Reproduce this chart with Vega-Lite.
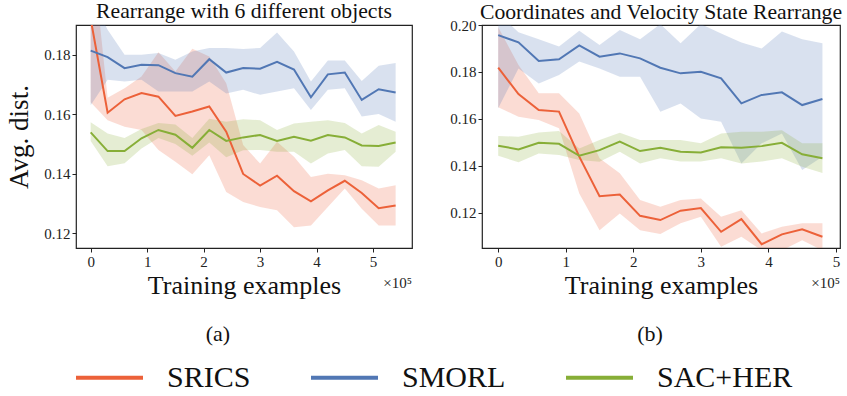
{
  "$schema": "https://vega.github.io/schema/vega-lite/v6.json",
  "padding": {"left": 5, "top": 0, "right": 3, "bottom": 0},
  "config": {
    "font": "Liberation Serif",
    "view": {"stroke": "#222", "strokeWidth": 1.2},
    "axis": {"grid": false, "domain": false, "tickColor": "#222", "tickSize": 4, "labelFontSize": 15, "labelColor": "#222", "labelFont": "Liberation Serif", "titleFont": "Liberation Serif", "titleFontWeight": "normal", "titleColor": "#111", "labelPadding": 2},
    "legend": {"labelFont": "Liberation Serif", "labelFontSize": 30, "labelColor": "#111"},
    "title": {"font": "Liberation Serif", "fontWeight": "normal", "fontSize": 21.7, "color": "#111"}
  },
  "datasets": {
    "d": [
      {"p":"a","m":"SRICS","x":0,"y":0.192,"lo":0.164,"hi":0.22},
      {"p":"a","m":"SRICS","x":0.3,"y":0.1605,"lo":0.158,"hi":0.1655},
      {"p":"a","m":"SRICS","x":0.6,"y":0.165,"lo":0.1558,"hi":0.1687},
      {"p":"a","m":"SRICS","x":0.9,"y":0.1671,"lo":0.1547,"hi":0.1727},
      {"p":"a","m":"SRICS","x":1.2,"y":0.1659,"lo":0.148,"hi":0.1808},
      {"p":"a","m":"SRICS","x":1.5,"y":0.1594,"lo":0.144,"hi":0.1744},
      {"p":"a","m":"SRICS","x":1.8,"y":0.1609,"lo":0.1398,"hi":0.182},
      {"p":"a","m":"SRICS","x":2.1,"y":0.1626,"lo":0.1462,"hi":0.1794},
      {"p":"a","m":"SRICS","x":2.4,"y":0.1541,"lo":0.1338,"hi":0.1704},
      {"p":"a","m":"SRICS","x":2.7,"y":0.1399,"lo":0.1305,"hi":0.1496},
      {"p":"a","m":"SRICS","x":3.0,"y":0.136,"lo":0.1288,"hi":0.1434},
      {"p":"a","m":"SRICS","x":3.3,"y":0.1393,"lo":0.1277,"hi":0.1507},
      {"p":"a","m":"SRICS","x":3.6,"y":0.1341,"lo":0.122,"hi":0.1457},
      {"p":"a","m":"SRICS","x":3.9,"y":0.1307,"lo":0.1226,"hi":0.1389},
      {"p":"a","m":"SRICS","x":4.2,"y":0.1344,"lo":0.1288,"hi":0.14},
      {"p":"a","m":"SRICS","x":4.5,"y":0.1376,"lo":0.135,"hi":0.1395},
      {"p":"a","m":"SRICS","x":4.8,"y":0.1335,"lo":0.1282,"hi":0.1378},
      {"p":"a","m":"SRICS","x":5.1,"y":0.1284,"lo":0.1226,"hi":0.135},
      {"p":"a","m":"SRICS","x":5.4,"y":0.1293,"lo":0.1226,"hi":0.1361},
      {"p":"a","m":"SMORL","x":0,"y":0.1814,"lo":0.163,"hi":0.2},
      {"p":"a","m":"SMORL","x":0.3,"y":0.1792,"lo":0.1716,"hi":0.1884},
      {"p":"a","m":"SMORL","x":0.6,"y":0.1755,"lo":0.171,"hi":0.18},
      {"p":"a","m":"SMORL","x":0.9,"y":0.1766,"lo":0.1716,"hi":0.18},
      {"p":"a","m":"SMORL","x":1.2,"y":0.1765,"lo":0.1676,"hi":0.1806},
      {"p":"a","m":"SMORL","x":1.5,"y":0.1738,"lo":0.1676,"hi":0.1783},
      {"p":"a","m":"SMORL","x":1.8,"y":0.1726,"lo":0.1676,"hi":0.1811},
      {"p":"a","m":"SMORL","x":2.1,"y":0.1785,"lo":0.171,"hi":0.1823},
      {"p":"a","m":"SMORL","x":2.4,"y":0.174,"lo":0.167,"hi":0.1823},
      {"p":"a","m":"SMORL","x":2.7,"y":0.1755,"lo":0.1682,"hi":0.1819},
      {"p":"a","m":"SMORL","x":3.0,"y":0.1753,"lo":0.1665,"hi":0.1823},
      {"p":"a","m":"SMORL","x":3.3,"y":0.1776,"lo":0.1676,"hi":0.1875},
      {"p":"a","m":"SMORL","x":3.6,"y":0.175,"lo":0.1687,"hi":0.1811},
      {"p":"a","m":"SMORL","x":3.9,"y":0.1657,"lo":0.1614,"hi":0.171},
      {"p":"a","m":"SMORL","x":4.2,"y":0.1734,"lo":0.1682,"hi":0.1781},
      {"p":"a","m":"SMORL","x":4.5,"y":0.174,"lo":0.1687,"hi":0.1781},
      {"p":"a","m":"SMORL","x":4.8,"y":0.1648,"lo":0.1592,"hi":0.1712},
      {"p":"a","m":"SMORL","x":5.1,"y":0.1684,"lo":0.1601,"hi":0.1763},
      {"p":"a","m":"SMORL","x":5.4,"y":0.1673,"lo":0.1575,"hi":0.1772},
      {"p":"a","m":"SAC+HER","x":0,"y":0.1539,"lo":0.151,"hi":0.1573},
      {"p":"a","m":"SAC+HER","x":0.3,"y":0.1476,"lo":0.1425,"hi":0.1535},
      {"p":"a","m":"SAC+HER","x":0.6,"y":0.1476,"lo":0.1435,"hi":0.152},
      {"p":"a","m":"SAC+HER","x":0.9,"y":0.1519,"lo":0.1485,"hi":0.155},
      {"p":"a","m":"SAC+HER","x":1.2,"y":0.1547,"lo":0.152,"hi":0.157},
      {"p":"a","m":"SAC+HER","x":1.5,"y":0.1531,"lo":0.15,"hi":0.1565},
      {"p":"a","m":"SAC+HER","x":1.8,"y":0.1487,"lo":0.146,"hi":0.152},
      {"p":"a","m":"SAC+HER","x":2.1,"y":0.1547,"lo":0.1505,"hi":0.1585},
      {"p":"a","m":"SAC+HER","x":2.4,"y":0.151,"lo":0.1455,"hi":0.1575},
      {"p":"a","m":"SAC+HER","x":2.7,"y":0.1522,"lo":0.1479,"hi":0.1583},
      {"p":"a","m":"SAC+HER","x":3.0,"y":0.153,"lo":0.148,"hi":0.158},
      {"p":"a","m":"SAC+HER","x":3.3,"y":0.151,"lo":0.1474,"hi":0.1547},
      {"p":"a","m":"SAC+HER","x":3.6,"y":0.1524,"lo":0.1474,"hi":0.1569},
      {"p":"a","m":"SAC+HER","x":3.9,"y":0.1511,"lo":0.1434,"hi":0.1575},
      {"p":"a","m":"SAC+HER","x":4.2,"y":0.153,"lo":0.1468,"hi":0.158},
      {"p":"a","m":"SAC+HER","x":4.5,"y":0.1522,"lo":0.148,"hi":0.157},
      {"p":"a","m":"SAC+HER","x":4.8,"y":0.1495,"lo":0.1425,"hi":0.1535},
      {"p":"a","m":"SAC+HER","x":5.1,"y":0.1493,"lo":0.1423,"hi":0.1564},
      {"p":"a","m":"SAC+HER","x":5.4,"y":0.1505,"lo":0.1474,"hi":0.1541},
      {"p":"b","m":"SRICS","x":0,"y":0.1818,"lo":0.165,"hi":0.199},
      {"p":"b","m":"SRICS","x":0.3,"y":0.1706,"lo":0.1609,"hi":0.183},
      {"p":"b","m":"SRICS","x":0.6,"y":0.1638,"lo":0.1595,"hi":0.1709},
      {"p":"b","m":"SRICS","x":0.9,"y":0.1631,"lo":0.156,"hi":0.1709},
      {"p":"b","m":"SRICS","x":1.2,"y":0.1439,"lo":0.1282,"hi":0.1623},
      {"p":"b","m":"SRICS","x":1.5,"y":0.1271,"lo":0.1126,"hi":0.1432},
      {"p":"b","m":"SRICS","x":1.8,"y":0.1278,"lo":0.1197,"hi":0.1368},
      {"p":"b","m":"SRICS","x":2.1,"y":0.1187,"lo":0.1126,"hi":0.1254},
      {"p":"b","m":"SRICS","x":2.4,"y":0.1169,"lo":0.111,"hi":0.1226},
      {"p":"b","m":"SRICS","x":2.7,"y":0.1209,"lo":0.1155,"hi":0.1254},
      {"p":"b","m":"SRICS","x":3.0,"y":0.122,"lo":0.1183,"hi":0.1261},
      {"p":"b","m":"SRICS","x":3.3,"y":0.1119,"lo":0.1055,"hi":0.1183},
      {"p":"b","m":"SRICS","x":3.6,"y":0.1173,"lo":0.1098,"hi":0.1211},
      {"p":"b","m":"SRICS","x":3.9,"y":0.1066,"lo":0.104,"hi":0.1112},
      {"p":"b","m":"SRICS","x":4.2,"y":0.1108,"lo":0.104,"hi":0.114},
      {"p":"b","m":"SRICS","x":4.5,"y":0.113,"lo":0.1083,"hi":0.1155},
      {"p":"b","m":"SRICS","x":4.8,"y":0.1098,"lo":0.104,"hi":0.1155},
      {"p":"b","m":"SMORL","x":0,"y":0.1957,"lo":0.1645,"hi":0.205},
      {"p":"b","m":"SMORL","x":0.3,"y":0.1926,"lo":0.1815,"hi":0.1969},
      {"p":"b","m":"SMORL","x":0.6,"y":0.1847,"lo":0.1751,"hi":0.1939},
      {"p":"b","m":"SMORL","x":0.9,"y":0.1854,"lo":0.1787,"hi":0.1908},
      {"p":"b","m":"SMORL","x":1.2,"y":0.1913,"lo":0.1844,"hi":0.1976},
      {"p":"b","m":"SMORL","x":1.5,"y":0.1865,"lo":0.1815,"hi":0.1915},
      {"p":"b","m":"SMORL","x":1.8,"y":0.1879,"lo":0.178,"hi":0.1979},
      {"p":"b","m":"SMORL","x":2.1,"y":0.1858,"lo":0.178,"hi":0.1939},
      {"p":"b","m":"SMORL","x":2.4,"y":0.1818,"lo":0.163,"hi":0.2004},
      {"p":"b","m":"SMORL","x":2.7,"y":0.1794,"lo":0.1666,"hi":0.1922},
      {"p":"b","m":"SMORL","x":3.0,"y":0.1801,"lo":0.1602,"hi":0.2004},
      {"p":"b","m":"SMORL","x":3.3,"y":0.1773,"lo":0.1588,"hi":0.1964},
      {"p":"b","m":"SMORL","x":3.6,"y":0.1666,"lo":0.141,"hi":0.1925},
      {"p":"b","m":"SMORL","x":3.9,"y":0.1702,"lo":0.1496,"hi":0.19},
      {"p":"b","m":"SMORL","x":4.2,"y":0.1713,"lo":0.1538,"hi":0.1972},
      {"p":"b","m":"SMORL","x":4.5,"y":0.1659,"lo":0.1382,"hi":0.1939},
      {"p":"b","m":"SMORL","x":4.8,"y":0.1685,"lo":0.1439,"hi":0.1922},
      {"p":"b","m":"SAC+HER","x":0,"y":0.1486,"lo":0.1443,"hi":0.1527},
      {"p":"b","m":"SAC+HER","x":0.3,"y":0.147,"lo":0.1415,"hi":0.1524},
      {"p":"b","m":"SAC+HER","x":0.6,"y":0.1498,"lo":0.1453,"hi":0.1542},
      {"p":"b","m":"SAC+HER","x":0.9,"y":0.1494,"lo":0.1446,"hi":0.1548},
      {"p":"b","m":"SAC+HER","x":1.2,"y":0.1443,"lo":0.1425,"hi":0.1474},
      {"p":"b","m":"SAC+HER","x":1.5,"y":0.1467,"lo":0.1417,"hi":0.151},
      {"p":"b","m":"SAC+HER","x":1.8,"y":0.1503,"lo":0.146,"hi":0.1541},
      {"p":"b","m":"SAC+HER","x":2.1,"y":0.1463,"lo":0.141,"hi":0.151},
      {"p":"b","m":"SAC+HER","x":2.4,"y":0.1477,"lo":0.1432,"hi":0.151},
      {"p":"b","m":"SAC+HER","x":2.7,"y":0.146,"lo":0.1418,"hi":0.151},
      {"p":"b","m":"SAC+HER","x":3.0,"y":0.1457,"lo":0.1418,"hi":0.1496},
      {"p":"b","m":"SAC+HER","x":3.3,"y":0.1479,"lo":0.1432,"hi":0.1538},
      {"p":"b","m":"SAC+HER","x":3.6,"y":0.1477,"lo":0.141,"hi":0.1545},
      {"p":"b","m":"SAC+HER","x":3.9,"y":0.1484,"lo":0.1418,"hi":0.1545},
      {"p":"b","m":"SAC+HER","x":4.2,"y":0.1498,"lo":0.1432,"hi":0.1552},
      {"p":"b","m":"SAC+HER","x":4.5,"y":0.1449,"lo":0.1396,"hi":0.1496},
      {"p":"b","m":"SAC+HER","x":4.8,"y":0.1432,"lo":0.137,"hi":0.1496}
    ]
  },
  "resolve": {"scale": {"color": "shared"}, "legend": {"color": "shared"}},
  "spacing": 36,
  "hconcat": [
    {
      "title": {"text": "(a)", "orient": "bottom", "anchor": "middle", "frame": "bounds", "fontSize": 22, "offset": 25, "dx": 9},
      "vconcat": [
        {
          "width": 336,
          "height": 223,
          "title": {"text": "Rearrange with 6 different objects", "offset": 2},
          "layer": [
            {
              "data": {"name": "d"},
              "transform": [{"filter": "datum.p == 'a'"}],
              "mark": {"type": "area", "clip": true, "fillOpacity": 0.22},
              "encoding": {
                "x": {"field": "x", "type": "quantitative", "scale": {"domain": [-0.26, 5.69], "nice": false, "zero": false}, "axis": {"values": [0, 1, 2, 3, 4, 5], "format": "d", "title": "Training examples", "titleFontSize": 26, "titlePadding": 3}},
                "y": {"field": "lo", "type": "quantitative", "scale": {"domain": [0.115, 0.19], "nice": false, "zero": false}, "axis": {"values": [0.12, 0.14, 0.16, 0.18], "format": ".2f", "title": "Avg. dist.", "titleFontSize": 27, "titlePadding": 10}},
                "y2": {"field": "hi"},
                "color": {"field": "m", "type": "nominal", "scale": {"domain": ["SRICS", "SMORL", "SAC+HER"], "range": ["#EC6139", "#5177B4", "#87AE37"]}}
              }
            },
            {
              "data": {"name": "d"},
              "transform": [{"filter": "datum.p == 'a'"}],
              "mark": {"type": "line", "clip": true, "strokeWidth": 2},
              "encoding": {
                "x": {"field": "x", "type": "quantitative"},
                "y": {"field": "y", "type": "quantitative"},
                "color": {"field": "m", "type": "nominal",
                  "legend": {"orient": "none", "legendX": -2, "legendY": 317, "direction": "horizontal", "title": null, "padding": 0, "columnPadding": 52, "symbolType": "stroke", "symbolSize": 4489, "symbolStrokeWidth": 4, "symbolOpacity": 1, "labelFontSize": 30, "labelFont": "Liberation Serif", "labelColor": "#111", "labelOffset": 22, "labelLimit": 300}}
              }
            },
            {
              "data": {"values": [{}]},
              "mark": {"type": "text", "text": "×10⁵", "align": "right", "baseline": "top", "fontSize": 15, "clip": false, "color": "#222"},
              "encoding": {"x": {"datum": 5.69, "type": "quantitative"}, "y": {"datum": 0.1056, "type": "quantitative"}}
            }
          ]
        }
      ]
    },
    {
      "title": {"text": "(b)", "orient": "bottom", "anchor": "middle", "frame": "bounds", "fontSize": 22, "offset": 25, "dx": 4},
      "vconcat": [
        {
          "width": 358,
          "height": 223,
          "title": {"text": "Coordinates and Velocity State Rearrange", "offset": -6},
          "layer": [
            {
              "data": {"name": "d"},
              "transform": [{"filter": "datum.p == 'b'"}],
              "mark": {"type": "area", "clip": true, "fillOpacity": 0.22},
              "encoding": {
                "x": {"field": "x", "type": "quantitative", "scale": {"domain": [-0.24, 5.06], "nice": false, "zero": false}, "axis": {"values": [0, 1, 2, 3, 4, 5], "format": "d", "title": "Training examples", "titleFontSize": 26, "titlePadding": 3}},
                "y": {"field": "lo", "type": "quantitative", "scale": {"domain": [0.105, 0.2], "nice": false, "zero": false}, "axis": {"values": [0.12, 0.14, 0.16, 0.18, 0.2], "format": ".2f", "title": null}},
                "y2": {"field": "hi"},
                "color": {"field": "m", "type": "nominal"}
              }
            },
            {
              "data": {"name": "d"},
              "transform": [{"filter": "datum.p == 'b'"}],
              "mark": {"type": "line", "clip": true, "strokeWidth": 2},
              "encoding": {
                "x": {"field": "x", "type": "quantitative"},
                "y": {"field": "y", "type": "quantitative"},
                "color": {"field": "m", "type": "nominal"}
              }
            },
            {
              "data": {"values": [{}]},
              "mark": {"type": "text", "text": "×10⁵", "align": "right", "baseline": "top", "fontSize": 15, "clip": false, "color": "#222"},
              "encoding": {"x": {"datum": 5.06, "type": "quantitative"}, "y": {"datum": 0.0931, "type": "quantitative"}}
            }
          ]
        }
      ]
    }
  ]
}
